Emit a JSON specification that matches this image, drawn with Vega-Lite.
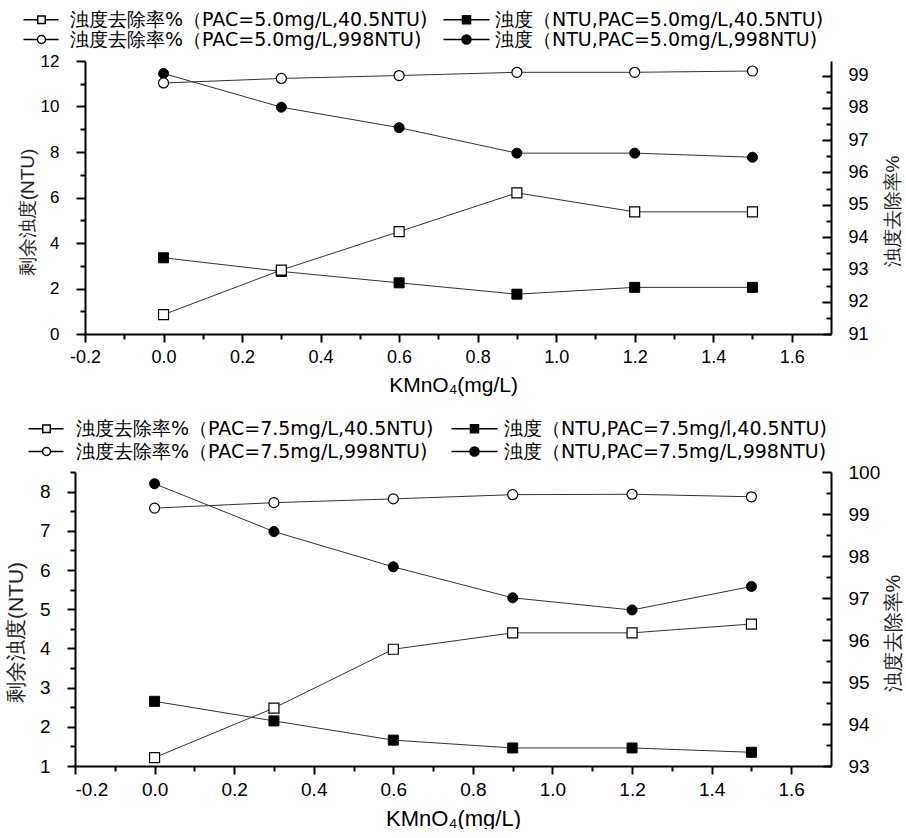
{
  "$schema": "https://vega.github.io/schema/vega-lite/v6.json",
  "background": "white",
  "padding": {"left": 5, "top": 10, "right": 0, "bottom": 0},
  "autosize": {"type": "pad"},
  "config": {
    "font": "Liberation Sans",
    "view": {"stroke": null},
    "axis": {"grid": false, "domainColor": "black", "domainWidth": 2, "tickColor": "black", "tickWidth": 2, "labelColor": "black", "titleColor": "#222", "labelFont": "Liberation Sans", "titleFont": "Liberation Sans", "titleFontWeight": "normal"},
    "legend": {"labelFont": "DejaVu Sans", "labelColor": "black"}
  },
  "datasets": {
    "p1": [
      {"x": 0, "v": 3.35, "s": "ntu405", "ax": "L"}, {"x": 0.3, "v": 2.75, "s": "ntu405", "ax": "L"}, {"x": 0.6, "v": 2.25, "s": "ntu405", "ax": "L"}, {"x": 0.9, "v": 1.75, "s": "ntu405", "ax": "L"}, {"x": 1.2, "v": 2.05, "s": "ntu405", "ax": "L"}, {"x": 1.5, "v": 2.05, "s": "ntu405", "ax": "L"},
      {"x": 0, "v": 11.45, "s": "ntu998", "ax": "L"}, {"x": 0.3, "v": 9.97, "s": "ntu998", "ax": "L"}, {"x": 0.6, "v": 9.07, "s": "ntu998", "ax": "L"}, {"x": 0.9, "v": 7.95, "s": "ntu998", "ax": "L"}, {"x": 1.2, "v": 7.95, "s": "ntu998", "ax": "L"}, {"x": 1.5, "v": 7.77, "s": "ntu998", "ax": "L"},
      {"x": 0, "v": 91.6, "s": "rem405", "ax": "R"}, {"x": 0.3, "v": 92.98, "s": "rem405", "ax": "R"}, {"x": 0.6, "v": 94.17, "s": "rem405", "ax": "R"}, {"x": 0.9, "v": 95.37, "s": "rem405", "ax": "R"}, {"x": 1.2, "v": 94.78, "s": "rem405", "ax": "R"}, {"x": 1.5, "v": 94.78, "s": "rem405", "ax": "R"},
      {"x": 0, "v": 98.77, "s": "rem998", "ax": "R"}, {"x": 0.3, "v": 98.91, "s": "rem998", "ax": "R"}, {"x": 0.6, "v": 99.0, "s": "rem998", "ax": "R"}, {"x": 0.9, "v": 99.1, "s": "rem998", "ax": "R"}, {"x": 1.2, "v": 99.1, "s": "rem998", "ax": "R"}, {"x": 1.5, "v": 99.14, "s": "rem998", "ax": "R"}
    ],
    "p2": [
      {"x": 0, "v": 2.65, "s": "ntu405", "ax": "L"}, {"x": 0.3, "v": 2.15, "s": "ntu405", "ax": "L"}, {"x": 0.6, "v": 1.66, "s": "ntu405", "ax": "L"}, {"x": 0.9, "v": 1.46, "s": "ntu405", "ax": "L"}, {"x": 1.2, "v": 1.46, "s": "ntu405", "ax": "L"}, {"x": 1.5, "v": 1.35, "s": "ntu405", "ax": "L"},
      {"x": 0, "v": 8.2, "s": "ntu998", "ax": "L"}, {"x": 0.3, "v": 6.98, "s": "ntu998", "ax": "L"}, {"x": 0.6, "v": 6.08, "s": "ntu998", "ax": "L"}, {"x": 0.9, "v": 5.29, "s": "ntu998", "ax": "L"}, {"x": 1.2, "v": 4.98, "s": "ntu998", "ax": "L"}, {"x": 1.5, "v": 5.58, "s": "ntu998", "ax": "L"},
      {"x": 0, "v": 93.2, "s": "rem405", "ax": "R"}, {"x": 0.3, "v": 94.38, "s": "rem405", "ax": "R"}, {"x": 0.6, "v": 95.78, "s": "rem405", "ax": "R"}, {"x": 0.9, "v": 96.17, "s": "rem405", "ax": "R"}, {"x": 1.2, "v": 96.17, "s": "rem405", "ax": "R"}, {"x": 1.5, "v": 96.38, "s": "rem405", "ax": "R"},
      {"x": 0, "v": 99.14, "s": "rem998", "ax": "R"}, {"x": 0.3, "v": 99.27, "s": "rem998", "ax": "R"}, {"x": 0.6, "v": 99.36, "s": "rem998", "ax": "R"}, {"x": 0.9, "v": 99.46, "s": "rem998", "ax": "R"}, {"x": 1.2, "v": 99.47, "s": "rem998", "ax": "R"}, {"x": 1.5, "v": 99.41, "s": "rem998", "ax": "R"}
    ],
    "leg1": [
      {"lab": "浊度去除率%（PAC=5.0mg/L,40.5NTU)"},
      {"lab": "浊度（NTU,PAC=5.0mg/L,40.5NTU)"},
      {"lab": "浊度去除率%（PAC=5.0mg/L,998NTU)"},
      {"lab": "浊度（NTU,PAC=5.0mg/L,998NTU)"}
    ],
    "leg2": [
      {"lab": "浊度去除率%（PAC=7.5mg/L,40.5NTU)"},
      {"lab": "浊度（NTU,PAC=7.5mg/l,40.5NTU)"},
      {"lab": "浊度去除率%（PAC=7.5mg/L,998NTU)"},
      {"lab": "浊度（NTU,PAC=7.5mg/L,998NTU)"}
    ]
  },
  "columns": 1,
  "spacing": 24,
  "resolve": {"scale": {"shape": "independent", "fill": "independent"}, "legend": {"shape": "independent", "fill": "independent"}},
  "concat": [
    {
      "width": 756,
      "height": 273,
      "layer": [
        {
          "data": {"name": "p1"},
          "transform": [{"filter": "datum.ax == 'L'"}],
          "encoding": {
            "x": {"field": "x", "type": "quantitative", "scale": {"domain": [-0.2255, 1.7], "nice": false, "zero": false},
              "axis": {"values": [-0.2, -0.1, 0, 0.1, 0.2, 0.3, 0.4, 0.5, 0.6, 0.7, 0.8, 0.9, 1.0, 1.1, 1.2, 1.3, 1.4, 1.5, 1.6],
                "domainDash": [0, 10, 746],
                "labelExpr": "abs(round(datum.value*10)) % 2 == 0 ? replace(format(datum.value, '.1f'), '−', '-') : ''",
                "tickSize": {"condition": {"test": "abs(round(datum.value*10)) % 2 == 0", "value": 8}, "value": 5},
                "labelFontSize": 18, "labelPadding": 6, "title": "KMnO₄(mg/L)", "titleFontSize": 21, "titlePadding": 8, "titleColor": "black"}},
            "y": {"field": "v", "type": "quantitative", "scale": {"domain": [0, 12], "nice": false, "zero": false},
              "axis": {"offset": -10, "values": [0, 1, 2, 3, 4, 5, 6, 7, 8, 9, 10, 11, 12],
                "labelExpr": "datum.value % 2 == 0 ? format(datum.value, 'd') : ''",
                "tickSize": {"condition": {"test": "datum.value % 2 == 0", "value": 9}, "value": 5},
                "labelFontSize": 17, "labelPadding": 17, "title": "剩余浊度(NTU)", "titleFontSize": 19, "titleX": -58, "titleY": 151, "titleBaseline": "middle", "titleAlign": "center", "titleAngle": 270}}
          },
          "layer": [
            {"mark": {"type": "line", "color": "#333", "strokeWidth": 1}, "encoding": {"detail": {"field": "s"}}},
            {"transform": [{"filter": "datum.s == 'ntu405'"}], "mark": {"type": "point", "shape": "square", "filled": true, "fill": "black", "stroke": "black", "strokeWidth": 1, "size": 100, "opacity": 1}},
            {"transform": [{"filter": "datum.s == 'ntu998'"}], "mark": {"type": "point", "shape": "circle", "filled": true, "fill": "black", "stroke": "black", "strokeWidth": 1, "size": 100, "opacity": 1}}
          ]
        },
        {
          "data": {"name": "p1"},
          "transform": [{"filter": "datum.ax == 'R'"}],
          "encoding": {
            "x": {"field": "x", "type": "quantitative", "scale": {"domain": [-0.2255, 1.7], "nice": false, "zero": false}},
            "y": {"field": "v", "type": "quantitative", "scale": {"domain": [91, 99.45], "nice": false, "zero": false},
              "axis": {"orient": "right", "values": [91, 91.5, 92, 92.5, 93, 93.5, 94, 94.5, 95, 95.5, 96, 96.5, 97, 97.5, 98, 98.5, 99],
                "labelExpr": "datum.value % 1 == 0 ? format(datum.value, 'd') : ''",
                "tickSize": {"condition": {"test": "datum.value % 1 == 0", "value": -9}, "value": -5},
                "labelFontSize": 18, "labelPadding": 26, "title": "浊度去除率%", "titleFontSize": 19, "titleAngle": 270, "titleX": 61, "titleY": 150, "titleBaseline": "middle", "titleAlign": "center"}}
          },
          "layer": [
            {"mark": {"type": "line", "color": "#333", "strokeWidth": 1}, "encoding": {"detail": {"field": "s"}}},
            {"transform": [{"filter": "datum.s == 'rem405'"}], "mark": {"type": "point", "shape": "square", "filled": true, "fill": "white", "stroke": "black", "strokeWidth": 1.2, "size": 100, "opacity": 1}},
            {"transform": [{"filter": "datum.s == 'rem998'"}], "mark": {"type": "point", "shape": "circle", "filled": true, "fill": "white", "stroke": "black", "strokeWidth": 1.2, "size": 100, "opacity": 1}}
          ]
        },
        {
          "data": {"name": "leg1"},
          "mark": {"type": "point", "filled": true, "opacity": 0, "stroke": "black", "strokeWidth": 1.2},
          "encoding": {
            "shape": {"field": "lab", "type": "nominal",
              "scale": {"domain": ["浊度去除率%（PAC=5.0mg/L,40.5NTU)", "浊度（NTU,PAC=5.0mg/L,40.5NTU)", "浊度去除率%（PAC=5.0mg/L,998NTU)", "浊度（NTU,PAC=5.0mg/L,998NTU)"],
                "range": ["M-3.6,0H-0.75M0.75,0H3.4M-0.75,-0.75H0.75V0.75H-0.75Z", "M-4.6,0H-0.8M0.8,0H4.6M-0.8,-0.8H0.8V0.8H-0.8Z", "M-3.6,0H-0.8M0.8,0H3.4M0.8,0A0.8,0.8,0,1,1,-0.8,0A0.8,0.8,0,1,1,0.8,0Z", "M-4.6,0H-0.9M0.9,0H4.6M0.9,0A0.9,0.9,0,1,1,-0.9,0A0.9,0.9,0,1,1,0.9,0Z"]},
              "legend": {"orient": "none", "legendX": -55, "legendY": -51, "direction": "horizontal", "columns": 2, "title": null, "labelFontSize": 19, "labelLimit": 800, "symbolSize": 100, "symbolOpacity": 1, "symbolOffset": 12, "labelOffset": 19, "columnPadding": 12, "rowPadding": 0, "padding": 0, "gridAlign": "each",
                "encode": {"symbols": {"update": {"stroke": {"value": "black"}, "strokeWidth": {"value": 1.2}, "opacity": {"value": 1}}}}}},
            "fill": {"field": "lab", "type": "nominal",
              "scale": {"domain": ["浊度去除率%（PAC=5.0mg/L,40.5NTU)", "浊度（NTU,PAC=5.0mg/L,40.5NTU)", "浊度去除率%（PAC=5.0mg/L,998NTU)", "浊度（NTU,PAC=5.0mg/L,998NTU)"],
                "range": ["white", "black", "white", "black"]},
              "legend": {"orient": "none", "legendX": -55, "legendY": -51, "direction": "horizontal", "columns": 2, "title": null, "labelFontSize": 19, "labelLimit": 800, "symbolSize": 100, "symbolOpacity": 1, "symbolOffset": 12, "labelOffset": 19, "columnPadding": 12, "rowPadding": 0, "padding": 0, "gridAlign": "each",
                "encode": {"symbols": {"update": {"stroke": {"value": "black"}, "strokeWidth": {"value": 1.2}, "opacity": {"value": 1}}}}}}
          }
        }
      ],
      "resolve": {"scale": {"y": "independent"}}
    },
    {
      "width": 756,
      "height": 294,
      "layer": [
        {
          "data": {"name": "p2"},
          "transform": [{"filter": "datum.ax == 'L'"}],
          "encoding": {
            "x": {"field": "x", "type": "quantitative", "scale": {"domain": [-0.2, 1.7], "nice": false, "zero": false},
              "axis": {"values": [-0.2, -0.1, 0, 0.1, 0.2, 0.3, 0.4, 0.5, 0.6, 0.7, 0.8, 0.9, 1.0, 1.1, 1.2, 1.3, 1.4, 1.5, 1.6],
                "labelExpr": "abs(round(datum.value*10)) % 2 == 0 ? replace(format(datum.value, '.1f'), '−', '-') : ''",
                "tickSize": {"condition": {"test": "abs(round(datum.value*10)) % 2 == 0", "value": 8}, "value": 5},
                "labelFontSize": 19, "labelPadding": 6, "title": "KMnO₄(mg/L)", "titleFontSize": 22, "titlePadding": 9, "titleColor": "black"}},
            "y": {"field": "v", "type": "quantitative", "scale": {"domain": [1, 8.5], "nice": false, "zero": false},
              "axis": {"values": [1, 1.5, 2, 2.5, 3, 3.5, 4, 4.5, 5, 5.5, 6, 6.5, 7, 7.5, 8, 8.5],
                "labelExpr": "datum.value % 1 == 0 ? format(datum.value, 'd') : ''",
                "tickSize": {"condition": {"test": "datum.value % 1 == 0", "value": 8}, "value": 5},
                "labelFontSize": 19, "labelPadding": 17, "title": "剩余浊度(NTU)", "titleFontSize": 21, "titleX": -59, "titleY": 160, "titleBaseline": "middle", "titleAlign": "center", "titleAngle": 270}}
          },
          "layer": [
            {"mark": {"type": "line", "color": "#333", "strokeWidth": 1}, "encoding": {"detail": {"field": "s"}}},
            {"transform": [{"filter": "datum.s == 'ntu405'"}], "mark": {"type": "point", "shape": "square", "filled": true, "fill": "black", "stroke": "black", "strokeWidth": 1, "size": 100, "opacity": 1}},
            {"transform": [{"filter": "datum.s == 'ntu998'"}], "mark": {"type": "point", "shape": "circle", "filled": true, "fill": "black", "stroke": "black", "strokeWidth": 1, "size": 100, "opacity": 1}}
          ]
        },
        {
          "data": {"name": "p2"},
          "transform": [{"filter": "datum.ax == 'R'"}],
          "encoding": {
            "x": {"field": "x", "type": "quantitative", "scale": {"domain": [-0.2, 1.7], "nice": false, "zero": false}},
            "y": {"field": "v", "type": "quantitative", "scale": {"domain": [93, 100], "nice": false, "zero": false},
              "axis": {"orient": "right", "values": [93, 93.5, 94, 94.5, 95, 95.5, 96, 96.5, 97, 97.5, 98, 98.5, 99, 99.5, 100],
                "labelExpr": "datum.value % 1 == 0 ? format(datum.value, 'd') : ''",
                "tickSize": {"condition": {"test": "datum.value % 1 == 0", "value": -9}, "value": -5},
                "labelFontSize": 19, "labelPadding": 26, "title": "浊度去除率%", "titleFontSize": 20, "titleAngle": 270, "titleX": 62, "titleY": 161, "titleBaseline": "middle", "titleAlign": "center"}}
          },
          "layer": [
            {"mark": {"type": "line", "color": "#333", "strokeWidth": 1}, "encoding": {"detail": {"field": "s"}}},
            {"transform": [{"filter": "datum.s == 'rem405'"}], "mark": {"type": "point", "shape": "square", "filled": true, "fill": "white", "stroke": "black", "strokeWidth": 1.2, "size": 100, "opacity": 1}},
            {"transform": [{"filter": "datum.s == 'rem998'"}], "mark": {"type": "point", "shape": "circle", "filled": true, "fill": "white", "stroke": "black", "strokeWidth": 1.2, "size": 100, "opacity": 1}}
          ]
        },
        {
          "data": {"name": "leg2"},
          "mark": {"type": "point", "filled": true, "opacity": 0, "stroke": "black", "strokeWidth": 1.2},
          "encoding": {
            "shape": {"field": "lab", "type": "nominal",
              "scale": {"domain": ["浊度去除率%（PAC=7.5mg/L,40.5NTU)", "浊度（NTU,PAC=7.5mg/l,40.5NTU)", "浊度去除率%（PAC=7.5mg/L,998NTU)", "浊度（NTU,PAC=7.5mg/L,998NTU)"],
                "range": ["M-3.6,0H-0.75M0.75,0H3.4M-0.75,-0.75H0.75V0.75H-0.75Z", "M-4.6,0H-0.8M0.8,0H4.6M-0.8,-0.8H0.8V0.8H-0.8Z", "M-3.6,0H-0.8M0.8,0H3.4M0.8,0A0.8,0.8,0,1,1,-0.8,0A0.8,0.8,0,1,1,0.8,0Z", "M-4.6,0H-0.9M0.9,0H4.6M0.9,0A0.9,0.9,0,1,1,-0.9,0A0.9,0.9,0,1,1,0.9,0Z"]},
              "legend": {"orient": "none", "legendX": -50, "legendY": -53, "direction": "horizontal", "columns": 2, "title": null, "labelFontSize": 19, "labelLimit": 800, "symbolSize": 100, "symbolOpacity": 1, "symbolOffset": 12, "labelOffset": 20, "columnPadding": 14, "rowPadding": 3, "padding": 0, "gridAlign": "each",
                "encode": {"symbols": {"update": {"stroke": {"value": "black"}, "strokeWidth": {"value": 1.2}, "opacity": {"value": 1}}}}}},
            "fill": {"field": "lab", "type": "nominal",
              "scale": {"domain": ["浊度去除率%（PAC=7.5mg/L,40.5NTU)", "浊度（NTU,PAC=7.5mg/l,40.5NTU)", "浊度去除率%（PAC=7.5mg/L,998NTU)", "浊度（NTU,PAC=7.5mg/L,998NTU)"],
                "range": ["white", "black", "white", "black"]},
              "legend": {"orient": "none", "legendX": -50, "legendY": -53, "direction": "horizontal", "columns": 2, "title": null, "labelFontSize": 19, "labelLimit": 800, "symbolSize": 100, "symbolOpacity": 1, "symbolOffset": 12, "labelOffset": 20, "columnPadding": 14, "rowPadding": 3, "padding": 0, "gridAlign": "each",
                "encode": {"symbols": {"update": {"stroke": {"value": "black"}, "strokeWidth": {"value": 1.2}, "opacity": {"value": 1}}}}}}
          }
        }
      ],
      "resolve": {"scale": {"y": "independent"}}
    }
  ]
}
